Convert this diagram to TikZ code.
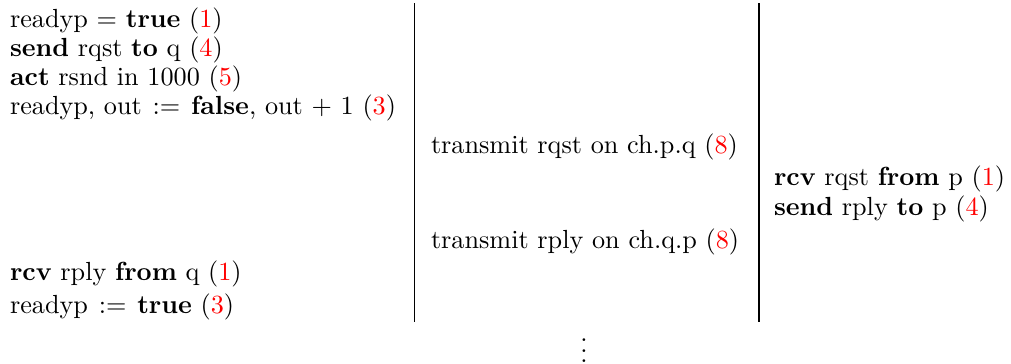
\documentclass[tikz,border=0pt]{standalone}
\usepackage{xcolor}
\newcommand\rn[1]{(\textcolor{red}{#1})}
\newcommand\asg{\kern0.8pt:=\kern0.8pt}
\begin{document}
\begin{tikzpicture}[x=0.3817pt,y=-0.3817pt,
  txt/.style={anchor=base west, inner sep=0pt, outer sep=0pt},
  sep/.style={line width=0.46pt, black}]
\useasboundingbox (0,0) rectangle (1011,364);
% left column
\node[txt] (l1) at (10,27)  {readyp = \textbf{true} \rn{1}};
\node[txt] (l2) at (10,56)  {\textbf{send} rqst \textbf{to} q \rn{4}};
\node[txt] (l3) at (10,85)  {\textbf{act} rsnd in 1000 \rn{5}};
\node[txt] (l4) at (10,114) {readyp, out \asg{} \textbf{false}, out + 1 \rn{3}};
\node[txt] (l5) at (10,280) {\textbf{rcv} rply \textbf{from} q \rn{1}};
\node[txt] (l6) at (10,313) {readyp \asg{} \textbf{true} \rn{3}};
% middle column
\node[txt] (m1) at (431,153) {transmit rqst on ch.p.q \rn{8}};
\node[txt] (m2) at (431,248) {transmit rply on ch.q.p \rn{8}};
% right column
\node[txt] (r1) at (774,185) {\textbf{rcv} rqst \textbf{from} p \rn{1}};
\node[txt] (r2) at (774,215) {\textbf{send} rply \textbf{to} p \rn{4}};
% separators
\coordinate (s1t) at (414.5,3);
\coordinate (s1b) at (414.5,322);
\coordinate (s2t) at (759,3);
\coordinate (s2b) at (759,322);
\draw[sep] (s1t) -- (s1b);
\draw[sep] (s2t) -- (s2b);
% continuation dots
\node[anchor=base, inner sep=0pt] (dots) at (584,362.5) {$\vdots$};
\end{tikzpicture}
\end{document}
